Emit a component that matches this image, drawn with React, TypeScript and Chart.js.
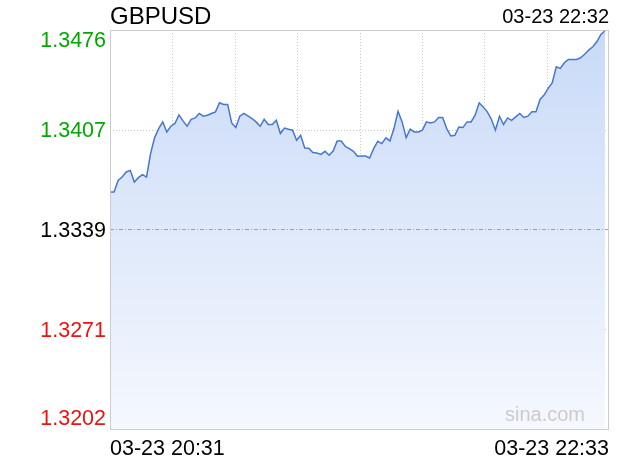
import { useEffect, useRef } from "react";
import { Chart, registerables } from "chart.js";

Chart.register(...registerables);

const title = "GBPUSD";
const lastTime = "03-23 22:32";
const xEndLabels = ["03-23 20:31", "03-23 22:33"];
const yTickValues = [1.3476, 1.34075, 1.3339, 1.32705, 1.3202];
const yTickLabels = ["1.3476", "1.3407", "1.3339", "1.3271", "1.3202"];
const yTickColors = ["#00a800", "#00a800", "#000000", "#ee1111", "#ee1111"];
const prevClose = 1.3339;
const watermark = "sina.com";
const xSlots = 123;
const xGridDivisions = 8;

const prices = [
  1.33647, 1.33647, 1.33727, 1.3375, 1.33785, 1.33796, 1.33716, 1.33746, 1.33767, 1.3375,
  1.33911, 1.34021, 1.34083, 1.34129, 1.3406, 1.34099, 1.34118, 1.34177, 1.34136, 1.34099,
  1.34147, 1.34156, 1.34187, 1.34168, 1.34175, 1.34187, 1.34198, 1.3426, 1.34249, 1.34249,
  1.34122, 1.3409, 1.34168, 1.34187, 1.3417, 1.34152, 1.34129, 1.34099, 1.34147, 1.34111,
  1.34111, 1.3414, 1.34049, 1.34087, 1.34079, 1.34072, 1.34003, 1.34037, 1.3395, 1.33948,
  1.33918, 1.33915, 1.33906, 1.33927, 1.339, 1.33929, 1.33998, 1.33998, 1.33961, 1.33946,
  1.33927, 1.33893,
  1.33895, 1.33895, 1.33881, 1.33946, 1.33996, 1.3398, 1.34019, 1.33998, 1.34083, 1.34202,
  1.34129, 1.34021, 1.34079, 1.3406, 1.3406, 1.34072, 1.34129, 1.34122, 1.34129, 1.34159,
  1.34159, 1.34083, 1.34032, 1.34037, 1.34094, 1.3409, 1.34129, 1.34129, 1.34175, 1.3426,
  1.34232, 1.34198, 1.34147, 1.34072, 1.34168, 1.34111, 1.34156, 1.3414, 1.34163, 1.34187,
  1.34159, 1.34168, 1.34198, 1.34198, 1.34283, 1.34313, 1.34359, 1.34397, 1.34507, 1.34496,
  1.34535, 1.34558, 1.34558, 1.34558, 1.34569, 1.34593, 1.34622, 1.34645, 1.34679, 1.3473,
  1.34753,
];

const FONT = '"Liberation Sans", Arial, sans-serif';

const framePlugin = {
  id: "frame",
  beforeDatasetsDraw(chart: any) {
    const { ctx, chartArea: a, scales } = chart;
    const xs = scales.x;
    const ys = scales.y;
    ctx.save();
    ctx.lineWidth = 1;
    ctx.strokeStyle = "#c8c8c8";
    ctx.setLineDash([1, 2]);
    for (let i = 1; i < xGridDivisions; i++) {
      const x = Math.round(xs.getPixelForValue((i * xSlots) / xGridDivisions)) + 0.5;
      ctx.beginPath();
      ctx.moveTo(x, a.top);
      ctx.lineTo(x, a.bottom);
      ctx.stroke();
    }
    yTickValues.forEach((v) => {
      if (v === prevClose) return;
      const y = Math.round(ys.getPixelForValue(v)) + 0.5;
      ctx.beginPath();
      ctx.moveTo(a.left, y);
      ctx.lineTo(a.right, y);
      ctx.stroke();
    });
    ctx.restore();
  },
  afterDatasetsDraw(chart: any) {
    const { ctx, chartArea: a, scales } = chart;
    const ys = scales.y;
    ctx.save();
    const yc = Math.round(ys.getPixelForValue(prevClose)) + 0.5;
    ctx.strokeStyle = "#9c9cb6";
    ctx.lineWidth = 1;
    ctx.setLineDash([4, 2, 1, 2]);
    ctx.beginPath();
    ctx.moveTo(a.left, yc);
    ctx.lineTo(a.right, yc);
    ctx.stroke();
    ctx.setLineDash([]);
    ctx.strokeStyle = "#cccccc";
    ctx.strokeRect(a.left + 0.5, a.top + 0.5, a.right - a.left - 1, a.bottom - a.top);
    ctx.fillStyle = "#cccccc";
    ctx.font = `20px ${FONT}`;
    ctx.textAlign = "right";
    ctx.textBaseline = "alphabetic";
    ctx.fillText(watermark, a.right - 24, a.bottom - 8);
    ctx.font = `21.5px ${FONT}`;
    yTickValues.forEach((v, i) => {
      const y = ys.getPixelForValue(v);
      let base = y + 7.5;
      if (i === 0) base = y + 17;
      if (i === yTickValues.length - 1) base = y - 4;
      ctx.fillStyle = yTickColors[i];
      ctx.textAlign = "right";
      ctx.fillText(yTickLabels[i], a.left - 4, base);
    });
    ctx.fillStyle = "#000";
    ctx.font = `24px ${FONT}`;
    ctx.textAlign = "left";
    ctx.fillText(title, a.left, a.top - 6);
    ctx.font = `20px ${FONT}`;
    ctx.textAlign = "right";
    ctx.fillText(lastTime, a.right, a.top - 7);
    ctx.font = `21.5px ${FONT}`;
    ctx.textAlign = "left";
    ctx.fillText(xEndLabels[0], a.left, a.bottom + 26);
    ctx.textAlign = "right";
    ctx.fillText(xEndLabels[1], a.right, a.bottom + 26);
    ctx.restore();
  },
};

export default function App() {
  const ref = useRef<HTMLCanvasElement | null>(null);
  useEffect(() => {
    document.body.style.margin = "0";
    if (!ref.current) return;
    const chart = new Chart(ref.current, {
      type: "line",
      data: {
        datasets: [
          {
            data: prices.map((v, i) => ({ x: i, y: v })),
            borderColor: "#4577d0",
            borderWidth: 1.5,
            pointRadius: 0,
            tension: 0,
            fill: "start",
            backgroundColor: (c: any) => {
              const area = c.chart.chartArea;
              if (!area) return "#dfe9fb";
              const g = c.chart.ctx.createLinearGradient(0, area.top, 0, area.bottom);
              g.addColorStop(0, "#c9daf7");
              g.addColorStop(1, "#f5f8fe");
              return g;
            },
          },
        ],
      },
      options: {
        animation: false,
        responsive: false,
        maintainAspectRatio: false,
        devicePixelRatio: 1,
        layout: { padding: { left: 110, right: 11, top: 30, bottom: 31 } },
        plugins: { legend: { display: false }, tooltip: { enabled: false } },
        scales: {
          x: { type: "linear", min: 0, max: xSlots, display: false },
          y: { type: "linear", min: 1.3202, max: 1.3476, display: false },
        },
      },
      plugins: [framePlugin],
    } as any);
    return () => chart.destroy();
  }, []);
  return (
    <div style={{ position: "absolute", left: 0, top: 0, width: 620, height: 460, background: "#fff" }}>
      <canvas ref={ref} width={620} height={460} style={{ width: 620, height: 460 }} />
    </div>
  );
}
